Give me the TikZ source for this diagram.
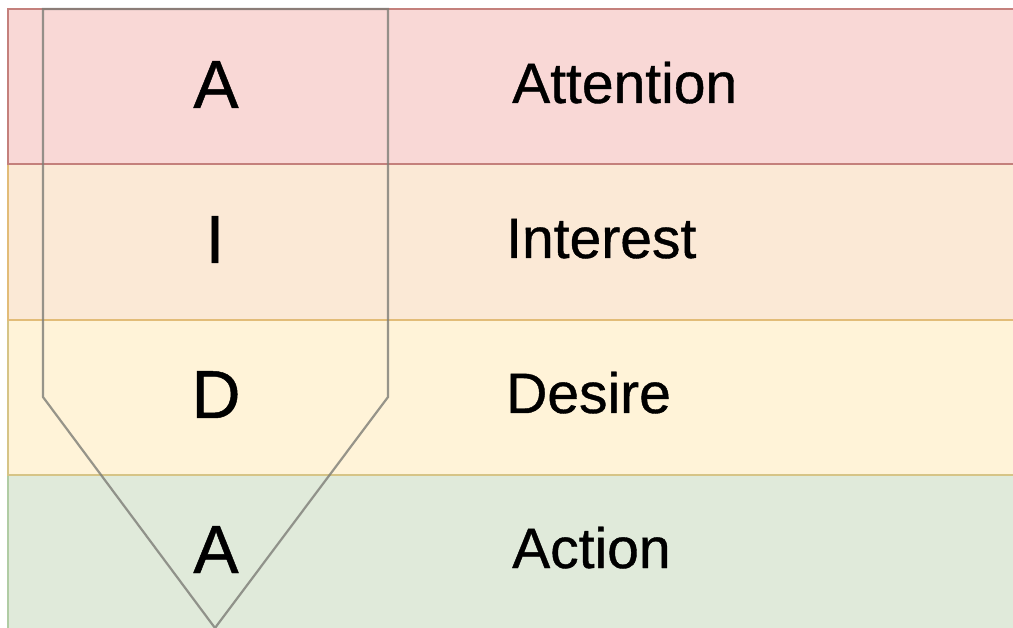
\documentclass[tikz,border=0pt]{standalone}
\usepackage{fontspec}
\setmainfont{Liberation Sans}
\newfontfamily\medfont{Liberation Sans}[FakeBold=0.7]
\definecolor{f1}{RGB}{249,216,214}
\definecolor{s1}{RGB}{196,128,124}
\definecolor{f2}{RGB}{251,233,214}
\definecolor{s2}{RGB}{226,188,120}
\definecolor{f3}{RGB}{255,243,216}
\definecolor{s3}{RGB}{214,196,134}
\definecolor{f4}{RGB}{224,234,218}
\definecolor{s4}{RGB}{176,204,164}
\definecolor{pent}{RGB}{125,125,118}
\begin{document}
\begin{tikzpicture}[x=1pt,y=-1pt,
  band/.style={line width=1.5pt},
  letter/.style={anchor=base,inner sep=0pt,font=\medfont\fontsize{68}{68}\selectfont},
  word/.style={anchor=base west,inner sep=0pt,font=\medfont\fontsize{57}{57}\selectfont}]
\useasboundingbox (0,0) rectangle (1013,628);
\fill[white] (0,0) rectangle (1013,628);
\draw[band,fill=f4,draw=s4] (8,475) rectangle (1020,631);
\draw[band,fill=f3,draw=s3] (8,320) rectangle (1020,475);
\draw[band,fill=f2,draw=s2] (8,164) rectangle (1020,320);
\draw[band,fill=f1,draw=s1] (8,9) rectangle (1020,164);
\draw[pent,draw opacity=0.8,line width=2.2pt,line join=miter]
  (43,9) -- (388,9) -- (388,397) -- (215,628) -- (43,397) -- cycle;
\node[letter] (l1) at (216,108) {A};
\node[letter] (l2) at (215,263) {I};
\node[letter] (l3) at (216,418) {D};
\node[letter] (l4) at (216,573) {A};
\node[word] (w1) at (512,103) {Attention};
\node[word] (w2) at (506,258) {Interest};
\node[word] (w3) at (506,413) {Desire};
\node[word] (w4) at (512,568) {Action};
\end{tikzpicture}
\end{document}
